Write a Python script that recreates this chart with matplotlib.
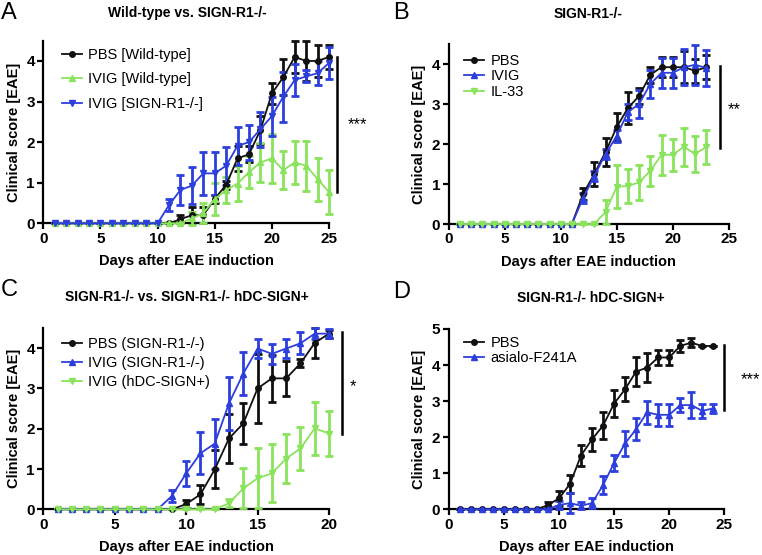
import numpy as np
import matplotlib
matplotlib.use("Agg")
import matplotlib.pyplot as plt
from matplotlib.lines import Line2D

plt.rcParams['font.family'] = ['Liberation Sans', 'DejaVu Sans']

BLACK = '#111111'
GREEN = '#8ae35c'
BLUE = '#2c3fdc'

# ---- panel A: Wild-type vs. SIGN-R1-/- ----
days_a = list(range(1, 26))
pbs_wt = [0]*10 + [0.0, 0.1, 0.2, 0.2, 0.6, 0.95, 1.6, 1.7, 2.3, 3.2, 3.6, 4.1, 4.0, 4.0, 4.1]
pbs_wt_err = [0]*10 + [0.0, 0.1, 0.2, 0.2, 0.1, 0.1, 0.3, 0.2, 0.35, 0.25, 0.45, 0.4, 0.5, 0.4, 0.3]
ivig_wt = [0]*11 + [0.0, 0.12, 0.25, 0.6, 0.82, 0.98, 1.26, 1.5, 1.6, 1.31, 1.5, 1.42, 1.09, 0.77]
ivig_wt_err = [0]*11 + [0.0, 0.15, 0.25, 0.4, 0.33, 0.43, 0.4, 0.48, 0.6, 0.46, 0.52, 0.62, 0.53, 0.55]
ivig_ko = [0]*10 + [0.45, 0.82, 0.93, 1.23, 1.23, 1.42, 1.91, 2.0, 2.32, 2.64, 3.12, 3.53, 3.62, 3.7, 3.95]
ivig_ko_err = [0]*10 + [0.15, 0.38, 0.45, 0.53, 0.53, 0.47, 0.47, 0.43, 0.43, 0.48, 0.62, 0.4, 0.15, 0.3, 0.4]

# ---- panel B: SIGN-R1-/- ----
days_b = list(range(1, 24))
pbs_b = [0]*11 + [0.75, 1.25, 1.8, 2.42, 2.9, 3.2, 3.73, 3.92, 3.92, 3.92, 3.83, 3.92]
pbs_b_err = [0]*11 + [0.15, 0.3, 0.35, 0.35, 0.4, 0.2, 0.2, 0.25, 0.25, 0.4, 0.3, 0.3]
ivig_b = [0]*11 + [0.65, 1.2, 1.75, 2.2, 2.8, 3.0, 3.5, 3.78, 3.78, 3.92, 3.98, 3.9]
ivig_b_err = [0]*11 + [0.12, 0.12, 0.12, 0.15, 0.2, 0.35, 0.35, 0.38, 0.38, 0.45, 0.5, 0.46]
il33_b = [0]*13 + [0.3, 0.93, 0.95, 1.04, 1.33, 1.73, 1.73, 1.93, 1.75, 1.93]
il33_b_err = [0]*13 + [0.3, 0.54, 0.43, 0.43, 0.38, 0.5, 0.4, 0.48, 0.45, 0.43]

# ---- panel C: SIGN-R1-/- vs. SIGN-R1-/- hDC-SIGN+ ----
days_c = list(range(1, 21))
pbs_c = [0]*9 + [0.13, 0.37, 0.99, 1.76, 2.13, 3.0, 3.25, 3.25, 3.62, 4.13, 4.36]
pbs_c_err = [0]*9 + [0.1, 0.24, 0.47, 0.6, 0.52, 0.86, 0.58, 0.43, 0.1, 0.37, 0.1]
ivig_c = [0]*8 + [0.33, 0.89, 1.39, 1.63, 2.63, 3.37, 3.99, 3.86, 3.99, 4.12, 4.36, 4.36]
ivig_c_err = [0]*8 + [0.15, 0.3, 0.52, 0.62, 0.66, 0.53, 0.24, 0.25, 0.23, 0.27, 0.13, 0.12]
hdc_c = [0]*12 + [0.15, 0.52, 0.77, 0.89, 1.26, 1.51, 2.01, 1.88]
hdc_c_err = [0]*12 + [0.1, 0.5, 0.75, 0.72, 0.6, 0.54, 0.65, 0.56]

# ---- panel D: SIGN-R1-/- hDC-SIGN+ ----
days_d = list(range(1, 25))
pbs_d = [0]*8 + [0.12, 0.3, 0.7, 1.49, 1.94, 2.32, 2.93, 3.33, 3.82, 3.93, 4.21, 4.21, 4.53, 4.62, 4.53, 4.53]
pbs_d_err = [0]*8 + [0.07, 0.2, 0.25, 0.28, 0.32, 0.37, 0.37, 0.34, 0.4, 0.4, 0.2, 0.2, 0.16, 0.12, 0.0, 0.0]
asialo_d = [0]*9 + [0.12, 0.17, 0.1, 0.17, 0.67, 1.28, 1.83, 2.22, 2.69, 2.62, 2.62, 2.89, 2.89, 2.73, 2.8]
asialo_d_err = [0]*9 + [0.1, 0.27, 0.1, 0.13, 0.25, 0.23, 0.35, 0.3, 0.32, 0.3, 0.3, 0.2, 0.37, 0.2, 0.13]

W, H = 762, 555
fig = plt.figure(figsize=(W/100, H/100), dpi=100)


def px_axes(x0, x1, y0, y1):
    # pixel box (left, right, y of axis bottom, y of axis top) -> figure fraction axes
    return fig.add_axes([x0/W, 1 - y0/H, (x1 - x0)/W, (y0 - y1)/H])


def style(ax, xmax, ymax, xticks, yticks):
    ax.set_xlim(0, xmax)
    ax.set_ylim(0, ymax)
    ax.set_xticks(xticks)
    ax.set_yticks(yticks)
    for s in ['top', 'right']:
        ax.spines[s].set_visible(False)
    for s in ['left', 'bottom']:
        ax.spines[s].set_linewidth(1.6)
    ax.tick_params(width=1.6, length=4, labelsize=11, pad=2)
    for lab in ax.get_xticklabels() + ax.get_yticklabels():
        lab.set_fontweight('bold')
    ax.set_xlabel('Days after EAE induction', fontsize=10.5, fontweight='bold', labelpad=6)
    ax.set_ylabel('Clinical score [EAE]', fontsize=10.5, fontweight='bold', labelpad=4)


def series(ax, x, y, e, color, marker, label):
    ax.errorbar(x, y, yerr=e, color=color, marker=marker, markersize=4, lw=1.3,
                elinewidth=2.0, capsize=3, capthick=2.0, clip_on=False, zorder=3)
    return Line2D([], [], color=color, marker=marker, markersize=4, lw=1.3, label=label)


def legend(handles, hx, hy, spacing):
    # hx: pixel x where handles start, hy: pixel y of first entry centre
    fig.legend(handles=handles, loc='upper left', bbox_to_anchor=(hx/W, 1 - (hy - 8)/H),
               frameon=False, fontsize=10.5, handlelength=1.4, handletextpad=0.4,
               labelspacing=spacing, borderpad=0, borderaxespad=0)


def sig(ax, x, y0, y1, stars, sx, sy):
    ax.plot([x, x], [y0, y1], color='black', lw=1.8, clip_on=False)
    ax.text(sx, sy, stars, ha='center', va='baseline', fontsize=12, clip_on=False)


# A
ax = px_axes(43.3, 329, 223.3, 40.7)
h = [series(ax, days_a, pbs_wt, pbs_wt_err, BLACK, 'o', 'PBS [Wild-type]'),
     series(ax, days_a, ivig_wt, ivig_wt_err, GREEN, '^', 'IVIG [Wild-type]'),
     series(ax, days_a, ivig_ko, ivig_ko_err, BLUE, 'v', 'IVIG [SIGN-R1-/-]')]
style(ax, 25, 4.5, range(0, 26, 5), range(0, 5))
legend(h, 62, 56, 0.72)
sig(ax, 25.7, 4.1, 0.77, '***', 27.5, 2.31)

# B
ax = px_axes(448.7, 728.7, 224, 44)
h = [series(ax, days_b, pbs_b, pbs_b_err, BLACK, 'o', 'PBS'),
     series(ax, days_b, ivig_b, ivig_b_err, BLUE, '^', 'IVIG'),
     series(ax, days_b, il33_b, il33_b_err, GREEN, 'v', 'IL-33')]
style(ax, 25, 4.5, range(0, 26, 5), range(0, 5))
legend(h, 464, 62, 0.1)
sig(ax, 24.2, 3.95, 1.9, '**', 25.45, 2.74)

# C
ax = px_axes(43.3, 329, 509.3, 328)
h = [series(ax, days_c, pbs_c, pbs_c_err, BLACK, 'o', 'PBS (SIGN-R1-/-)'),
     series(ax, days_c, ivig_c, ivig_c_err, BLUE, '^', 'IVIG (SIGN-R1-/-)'),
     series(ax, days_c, hdc_c, hdc_c_err, GREEN, 'v', 'IVIG (hDC-SIGN+)')]
style(ax, 20, 4.5, range(0, 21, 5), range(0, 5))
legend(h, 62, 345, 0.35)
sig(ax, 20.9, 4.4, 1.86, '*', 21.7, 2.93)

# D
ax = px_axes(448.7, 724.3, 509.3, 329)
h = [series(ax, days_d, pbs_d, pbs_d_err, BLACK, 'o', 'PBS'),
     series(ax, days_d, asialo_d, asialo_d_err, BLUE, '^', 'asialo-F241A')]
style(ax, 25, 5, range(0, 26, 5), range(0, 6))
legend(h, 464, 344, 0.05)
sig(ax, 25.0, 4.55, 2.75, '***', 27.4, 3.46)

# panel letters and titles
for letter, lx, ly in [('A', 1, 13), ('B', 393, 13), ('C', 1, 290), ('D', 393, 292)]:
    fig.text(lx/W, 1 - ly/H, letter, fontsize=17, ha='left', va='center')
for title, tx, ty in [('Wild-type vs. SIGN-R1-/-', 187, 13), ('SIGN-R1-/-', 588, 14),
                      ('SIGN-R1-/- vs. SIGN-R1-/- hDC-SIGN+', 187, 297),
                      ('SIGN-R1-/- hDC-SIGN+', 591, 298)]:
    fig.text(tx/W, 1 - ty/H, title, fontsize=10, fontweight='bold', ha='center', va='center')

fig.savefig('out.png', dpi=100)
